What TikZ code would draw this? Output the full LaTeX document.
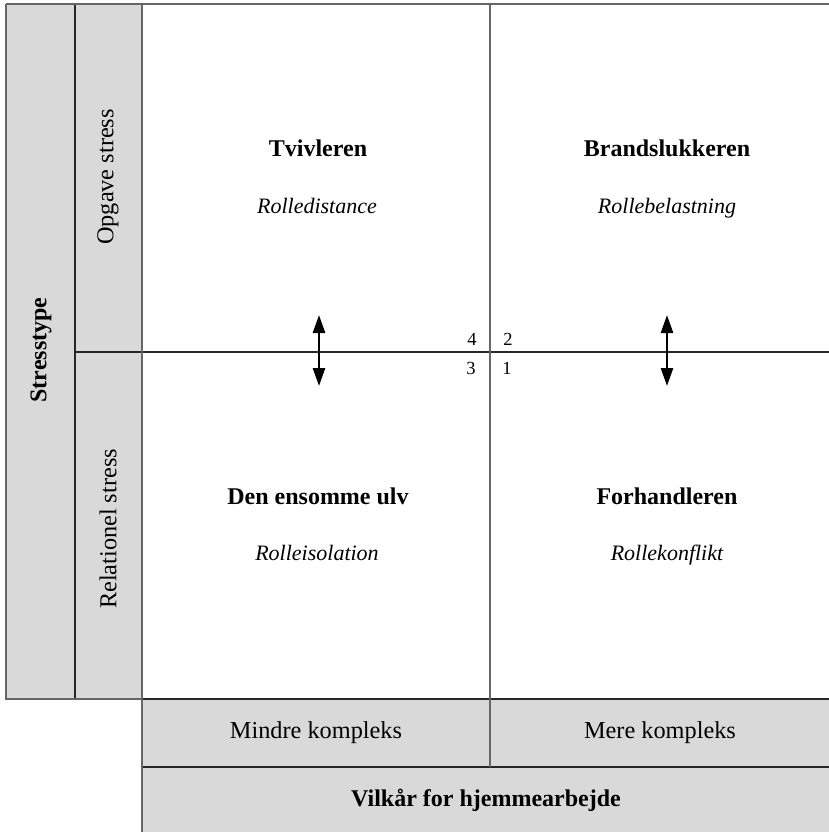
\documentclass[tikz,border=0pt]{standalone}
\usepackage{fontspec}
\setmainfont{Liberation Serif}
\usetikzlibrary{arrows.meta}
\definecolor{boxgray}{HTML}{D9D9D9}
\definecolor{edgegray}{HTML}{666666}
\tikzset{
  label/.style={font=\fontsize{24.3}{28}\selectfont},
  type/.style={font=\fontsize{24}{28}\selectfont\bfseries, anchor=base},
  role/.style={font=\fontsize{22}{26}\selectfont\itshape, anchor=base},
  num/.style={font=\fontsize{18.5}{22}\selectfont},
  rim/.style={edgegray, line width=2pt},
  rule/.style={black!85, line width=1.3pt},
  swing/.style={line width=2.6pt, {Triangle[length=18pt,width=12pt]}-{Triangle[length=18pt,width=12pt]}},
}
\begin{document}
\begin{tikzpicture}[x=1pt,y=-1pt]
\useasboundingbox (0,0) rectangle (829,832);
% grey bands
\fill[boxgray] (6,4) rectangle (142,699);
\fill[boxgray] (142,699) rectangle (829,832);
% frame and dividers
\draw[rule] (75,352) -- (829,352);
\draw[rule] (142,699) -- (829,699);
\draw[rule] (142,767) -- (829,767);
\draw[rule] (75,4) -- (75,699);
\draw[edgegray, line width=1.6pt] (490,4) -- (490,767);
\draw[rim] (6,4) -- (829,4);
\draw[rim] (6,4) -- (6,699) -- (142,699);
\draw[rim] (142,4) -- (142,832);
% side labels
\node[label, font=\fontsize{24}{28}\selectfont\bfseries, rotate=90] (stress) at (41,350) {Stresstype};
\node[label, rotate=90] (opgave) at (108,177) {Opgave stress};
\node[label, rotate=90] (relation) at (108,529) {Relationel stress};
% quadrants
\node[type] (tvivl) at (318,157) {Tvivleren};
\node[role] (distance) at (317,213) {Rolledistance};
\node[type] (brand) at (667,157) {Brandslukkeren};
\node[role] (belast) at (667,213) {Rollebelastning};
\node[type] (ulv) at (318,504) {Den ensomme ulv};
\node[role] (isolation) at (317,560) {Rolleisolation};
\node[type] (forhandl) at (667,504) {Forhandleren};
\node[role] (konflikt) at (667,560) {Rollekonflikt};
% quadrant numbers
\node[num] (n4) at (472,339) {4};
\node[num] (n2) at (508,339) {2};
\node[num] (n3) at (471,368) {3};
\node[num] (n1) at (507,368) {1};
% arrows
\coordinate (lefttop) at (319,315);
\coordinate (leftbot) at (319,386);
\coordinate (righttop) at (667,315);
\coordinate (rightbot) at (667,386);
\draw[swing] (lefttop) -- (leftbot);
\draw[swing] (righttop) -- (rightbot);
% bottom bands
\node[label] (mindre) at (316,733) {Mindre kompleks};
\node[label] (mere) at (660,733) {Mere kompleks};
\node[label, font=\fontsize{24}{28}\selectfont\bfseries] (vilkar) at (486,800) {Vilkår for hjemmearbejde};
\end{tikzpicture}
\end{document}
